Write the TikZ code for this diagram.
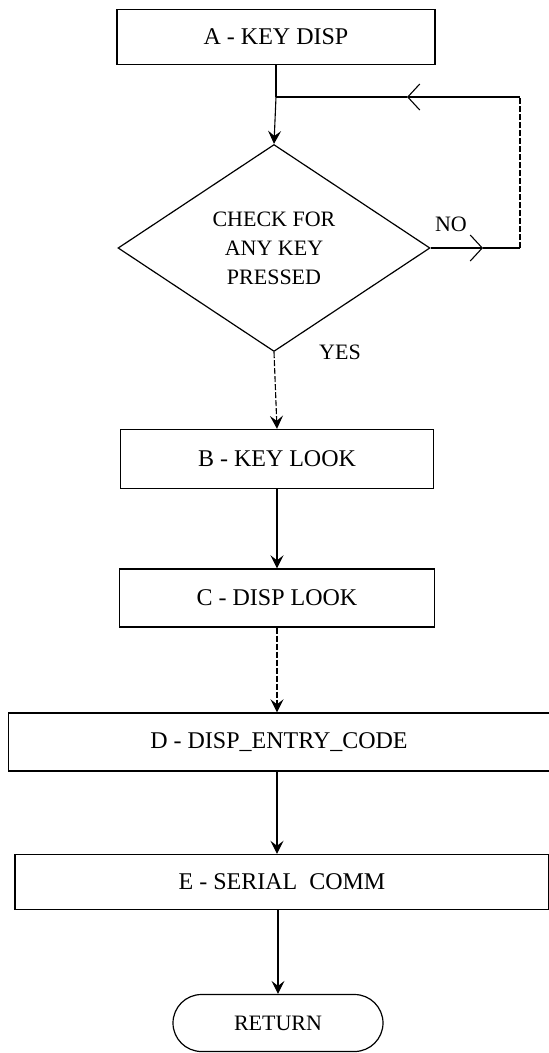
\documentclass[tikz,border=0pt]{standalone}
\usepackage{fontspec}
\setmainfont{Liberation Serif}
\usetikzlibrary{arrows.meta,shapes.geometric,shapes.misc}
\begin{document}
\begin{tikzpicture}[x=1pt,y=-1pt,
  boxnode/.style={draw,line width=1.4pt,rectangle,inner sep=0pt,font=\fontsize{24}{28}\selectfont},
  decnode/.style={draw,line width=1.2pt,diamond,inner sep=0pt,align=center,font=\fontsize{22}{29}\selectfont},
  endnode/.style={draw,line width=1.2pt,rounded rectangle,inner sep=0pt,font=\fontsize{22}{26}\selectfont},
  lbl/.style={inner sep=0pt,font=\fontsize{22}{26}\selectfont},
  conn/.style={line width=1.1pt},
  downarr/.style={conn,-{Stealth[length=13pt,width=13pt,inset=5pt]}},
  openarr/.style={conn,-{Straight Barb[length=12pt,width=26pt,line width=1.1pt]}},
  brokenline/.style={dash pattern=on 6pt off 2pt}
]
\useasboundingbox (0,0) rectangle (549,1053);

\node[boxnode,minimum width=318pt,minimum height=55pt] (A) at (276,37) {A - KEY DISP};
\node[decnode,minimum width=312pt,minimum height=207pt] (Q) at (274,248) {CHECK FOR\\ANY KEY\\PRESSED};
\node[boxnode,minimum width=313pt,minimum height=59pt] (B) at (277,459) {B - KEY LOOK};
\node[boxnode,minimum width=315pt,minimum height=58pt] (C) at (277,598) {C - DISP LOOK};
\node[boxnode,minimum width=541pt,minimum height=58pt] (D) at (279,742) {D - DISP\_ENTRY\_CODE};
\node[boxnode,minimum width=534pt,minimum height=55pt] (E) at (282,882) {E - SERIAL\ \ COMM};
\node[endnode,minimum width=210pt,minimum height=57pt] (R) at (278,1023) {RETURN};

\node[lbl] (no) at (451,224) {NO};
\node[lbl] (yes) at (340,352) {YES};

\coordinate (J) at (A.south |- 0,97);
\coordinate (noarr) at (483,0 |- Q.east);
\coordinate (r1) at (520,0 |- Q.east);
\coordinate (r2) at (520,97);
\coordinate (looparr) at (407,97);

\draw[conn] (A.south) -- (J);
\draw[downarr] (J) -- (Q.north);
\draw[openarr] (Q.east) -- (noarr);
\draw[conn] (noarr) -- (r1);
\draw[conn,brokenline] (r1) -- (r2);
\draw[openarr] (r2) -- (looparr);
\draw[conn] (looparr) -- (J);

\draw[downarr,brokenline] (Q.south) -- (B.north);
\draw[downarr] (B.south) -- (C.north);
\draw[downarr,brokenline] (C.south) -- (C.south |- D.north);
\draw[downarr] (D.south -| C.south) -- (E.north -| C.south);
\draw[downarr] (E.south -| R.north) -- (R.north);
\end{tikzpicture}
\end{document}
